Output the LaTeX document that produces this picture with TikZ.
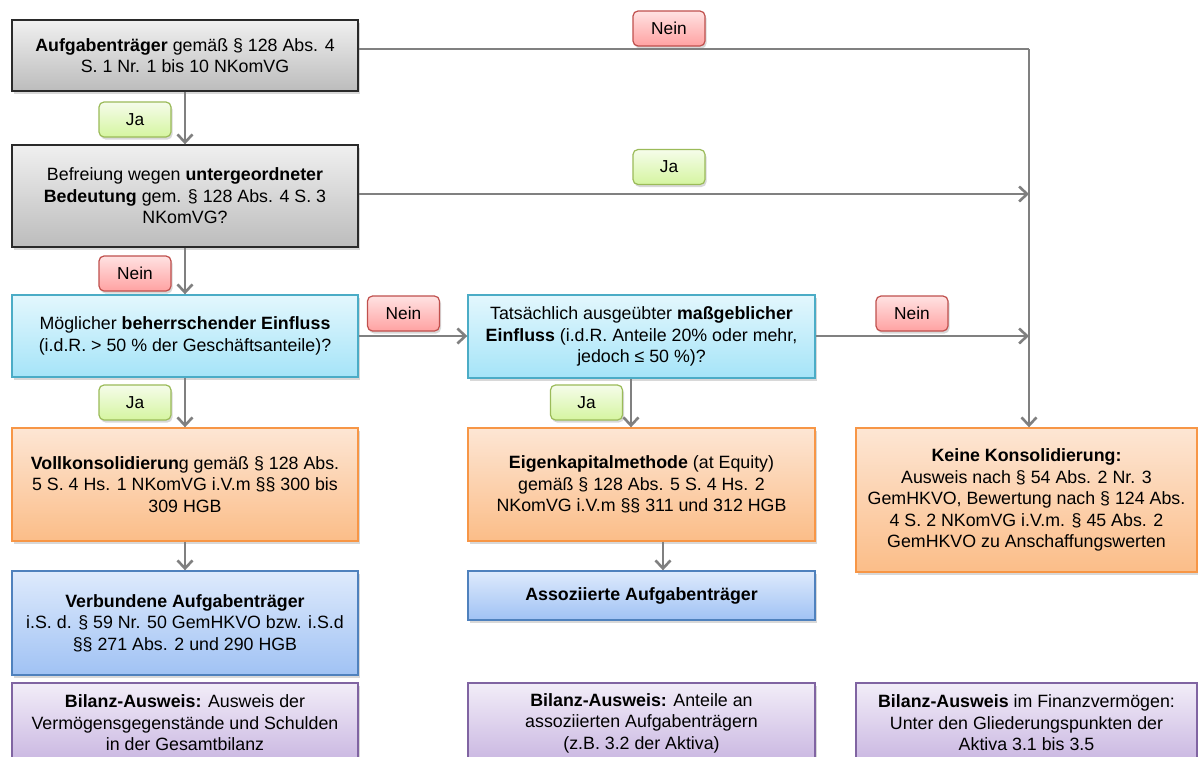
\documentclass[tikz,border=0pt]{standalone}
\usepackage{fontspec}
\setmainfont{Liberation Sans}
\usetikzlibrary{arrows.meta,shadows,calc}
\definecolor{grT}{HTML}{F0F0F0}\definecolor{grB}{HTML}{BCBCBC}\definecolor{grD}{HTML}{2A2A2A}
\definecolor{cyT}{HTML}{E3F7FD}\definecolor{cyB}{HTML}{A5E4F8}\definecolor{cyD}{HTML}{4BACC6}
\definecolor{orT}{HTML}{FDE6D4}\definecolor{orB}{HTML}{FBBD88}\definecolor{orD}{HTML}{F79646}
\definecolor{blT}{HTML}{DEEAFC}\definecolor{blB}{HTML}{A0C2F4}\definecolor{blD}{HTML}{4F81BD}
\definecolor{puT}{HTML}{F2EDF8}\definecolor{puB}{HTML}{C9B6E1}\definecolor{puD}{HTML}{8064A2}
\definecolor{neT}{HTML}{FFE2E2}\definecolor{neB}{HTML}{FFA2A2}\definecolor{neD}{HTML}{C0504D}
\definecolor{jaT}{HTML}{F5FCEA}\definecolor{jaB}{HTML}{D5F5A0}\definecolor{jaD}{HTML}{9BBB59}
\definecolor{arrC}{HTML}{808080}
\begin{document}
\begin{tikzpicture}[x=1pt,y=-1pt,
  box/.style={rectangle, line width=1.4pt, align=center, inner sep=3pt,
    font=\fontsize{17.8}{21.5}\selectfont,
    drop shadow={opacity=0.3,shadow xshift=1.5pt,shadow yshift=-2.5pt}},
  graybox/.style={box, draw=grD, top color=grT, bottom color=grB, minimum width=346pt},
  cyanbox/.style={box, draw=cyD, top color=cyT, bottom color=cyB, minimum width=346pt},
  orangebox/.style={box, draw=orD, top color=orT, bottom color=orB, minimum width=346pt},
  bluebox/.style={box, draw=blD, top color=blT, bottom color=blB, minimum width=346pt},
  purplebox/.style={box, draw=puD, top color=puT, bottom color=puB, minimum width=346pt},
  lab/.style={rectangle, rounded corners=5pt, line width=1.2pt, minimum width=72pt,
    minimum height=35pt, inner sep=0pt, font=\fontsize{17.3}{20}\selectfont,
    drop shadow={opacity=0.3,shadow xshift=1.5pt,shadow yshift=-2.5pt}},
  neinlab/.style={lab, draw=neD, top color=neT, bottom color=neB},
  jalab/.style={lab, draw=jaD, top color=jaT, bottom color=jaB},
  arr/.style={draw=arrC, line width=2.6pt, -{Straight Barb[length=8pt,width=15pt]}},
  conn/.style={draw=arrC, line width=2.6pt}
]
\clip (0,0) rectangle (1198,756);
\fill[white] (0,0) rectangle (1198,756);

% left column
\node[graybox, minimum height=71pt] (A) at (185,55.5)
  {\textbf{Aufgabenträger} gemäß § 128 Abs. 4\\S. 1 Nr. 1 bis 10 NKomVG};
\node[graybox, minimum height=102pt] (B) at (185,196)
  {Befreiung wegen \textbf{untergeordneter}\\\textbf{Bedeutung} gem. § 128 Abs. 4 S. 3\\NKomVG?};
\node[cyanbox, minimum height=82pt] (C) at (185,336)
  {Möglicher \textbf{beherrschender Einfluss}\\(i.d.R. > 50 \% der Geschäftsanteile)?};
\node[orangebox, minimum height=113pt] (D) at (185,484.5)
  {\textbf{Vollkonsolidierun}g gemäß § 128 Abs.\\5 S. 4 Hs. 1 NKomVG i.V.m §§ 300 bis\\309 HGB};
\node[bluebox, minimum height=104pt] (V) at (185,623)
  {\textbf{Verbundene Aufgabenträger}\\i.S. d. § 59 Nr. 50 GemHKVO bzw. i.S.d\\§§ 271 Abs. 2 und 290 HGB};
\node[purplebox, minimum height=80pt] (BL) at (185,723)
  {\textbf{Bilanz-Ausweis:} Ausweis der\\Vermögensgegenstände und Schulden\\in der Gesamtbilanz};

% middle column
\node[cyanbox, minimum width=347pt, minimum height=83pt] (T) at (641.5,336.5)
  {Tatsächlich ausgeübter \textbf{maßgeblicher}\\\textbf{Einfluss} (i.d.R. Anteile 20\% oder mehr,\\jedoch ≤ 50 \%)?};
\node[orangebox, minimum width=347pt, minimum height=113pt] (E) at (641.5,484.5)
  {\textbf{Eigenkapitalmethode} (at Equity)\\gemäß § 128 Abs. 5 S. 4 Hs. 2\\NKomVG i.V.m §§ 311 und 312 HGB};
\node[bluebox, minimum width=347pt, minimum height=49pt] (S) at (641.5,595.5)
  {\textbf{Assoziierte Aufgabenträger}};
\node[purplebox, minimum width=347pt, minimum height=80pt] (BM) at (641.5,723)
  {\textbf{Bilanz-Ausweis:} Anteile an\\assoziierten Aufgabenträgern\\(z.B. 3.2 der Aktiva)};

% right column
\node[orangebox, minimum width=341pt, minimum height=144pt] (K) at (1026.5,500)
  {\textbf{Keine Konsolidierung:}\\Ausweis nach § 54 Abs. 2 Nr. 3\\GemHKVO, Bewertung nach § 124 Abs.\\4 S. 2 NKomVG i.V.m. § 45 Abs. 2\\GemHKVO zu Anschaffungswerten};
\node[purplebox, minimum width=341pt, minimum height=80pt] (BR) at (1026.5,723)
  {\textbf{Bilanz-Ausweis} im Finanzvermögen:\\Unter den Gliederungspunkten der\\Aktiva 3.1 bis 3.5};

% connector coordinates
\coordinate (c0) at (1029,49);
\coordinate (c1) at (1029,194);
\coordinate (c2) at (1029,336);

% connectors
\draw[conn] (A.east |- c0) -- (c0);
\draw[arr] (c0) -- (c0 |- K.north);
\draw[arr] (B.east |- c1) -- (c1);
\draw[arr] (T.east |- c2) -- (c2);
\draw[arr] (C.east) -- (C.east -| T.west);
\draw[arr] (A.south) -- (B.north);
\draw[arr] (B.south) -- (C.north);
\draw[arr] (C.south) -- (D.north);
\draw[arr] (D.south) -- (V.north);
\draw[arr] ([xshift=-10.5pt]T.south) -- ([xshift=-10.5pt]E.north);
\draw[arr] ([xshift=21.5pt]E.south) -- ([xshift=21.5pt]S.north);

% labels
\node[jalab] (l1) at (135,119.5) {Ja};
\node[neinlab] (l2) at (135,273.5) {Nein};
\node[jalab] (l3) at (135,402.5) {Ja};
\node[neinlab] (l4) at (403.5,313.5) {Nein};
\node[jalab] (l5) at (586.5,402.5) {Ja};
\node[neinlab] (l6) at (912,313.5) {Nein};
\node[neinlab] (l7) at (669,28.5) {Nein};
\node[jalab] (l8) at (669,167) {Ja};
\end{tikzpicture}
\end{document}
